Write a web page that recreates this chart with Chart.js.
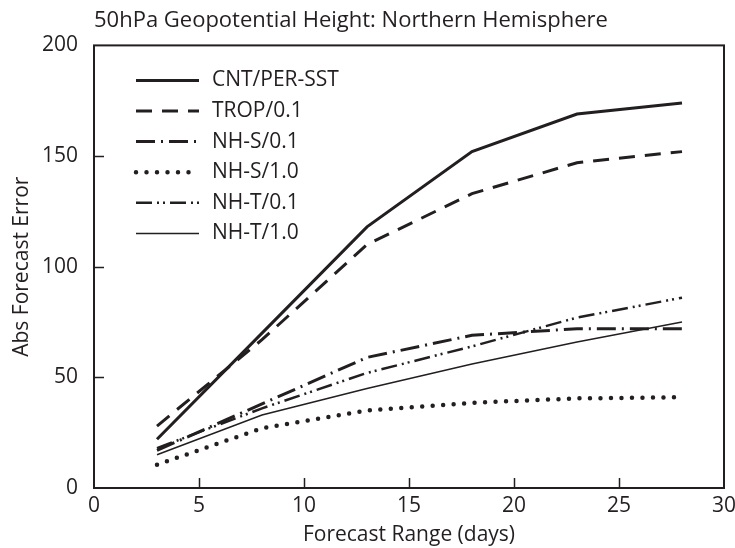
<!DOCTYPE html>
<html>
<head>
<meta charset="utf-8">
<script src="https://cdn.jsdelivr.net/npm/chart.js@4.4.1/dist/chart.umd.min.js"></script>
<style>
  html, body { margin: 0; padding: 0; background: #fff; }
  #wrap { width: 735px; height: 548px; }
</style>
</head>
<body>
<div id="wrap"><canvas id="chart" width="735" height="548"></canvas></div>
<script>
// forecast range (days) and abs forecast error per experiment
const days = [3, 8, 13, 18, 23, 28];
const cntPerSst = [22, 70, 118, 152, 169, 174];
const trop01 = [28, 67, 110, 133, 147, 152];
const nhS01 = [17, 38, 59, 69, 72, 72];
const nhS10 = [10.5, 27, 35, 38.5, 40.5, 41];
const nhT01 = [18, 36, 52, 64, 77, 86];
const nhT10 = [15, 33, 45, 56, 66, 75];

const xTicks = [0, 5, 10, 15, 20, 25, 30];
const yTicks = [0, 50, 100, 150, 200];

const INK = '#231f20';
const FONT = "'Open Sans', sans-serif";
const FSIZE = 21;

const series = [
    { label: 'CNT/PER-SST', data: cntPerSst, width: 3, dash: [], cap: 'butt' },
    { label: 'TROP/0.1', data: trop01, width: 3, dash: [16, 10], cap: 'butt' },
    { label: 'NH-S/0.1', data: nhS01, width: 3, dash: [19, 6, 2, 6], cap: 'butt' },
    { label: 'NH-S/1.0', data: nhS10, width: 4.5, dash: [0, 10.5], cap: 'round' },
    { label: 'NH-T/0.1', data: nhT01, width: 2.5, dash: [16, 5, 2, 4, 2, 5], cap: 'butt' },
    { label: 'NH-T/1.0', data: nhT10, width: 1.5, dash: [], cap: 'butt' }
];

const datasets = series.map(s => ({
    label: s.label,
    data: days.map((d, i) => ({ x: d, y: s.data[i] })),
    borderColor: INK,
    backgroundColor: INK,
    borderWidth: s.width,
    borderDash: s.dash,
    borderCapStyle: s.cap,
    borderJoinStyle: 'miter',
    pointRadius: 0,
    tension: 0,
    fill: false
}));

// frame, inward ticks and legend inside the plot
const framePlugin = {
    id: 'frame',
    afterDatasetsDraw(chart) {
        const { ctx, chartArea: a, scales } = chart;
        ctx.save();
        ctx.strokeStyle = INK;
        ctx.setLineDash([]);
        ctx.lineWidth = 1.5;
        xTicks.slice(1, -1).forEach(v => {
            const px = Math.round(scales.x.getPixelForValue(v)) + 0.5;
            ctx.beginPath();
            ctx.moveTo(px, a.bottom);
            ctx.lineTo(px, a.bottom - 10);
            ctx.stroke();
        });
        yTicks.slice(1, -1).forEach(v => {
            const py = Math.round(scales.y.getPixelForValue(v)) + 0.5;
            ctx.beginPath();
            ctx.moveTo(a.left, py);
            ctx.lineTo(a.left + 10, py);
            ctx.stroke();
        });
        ctx.lineWidth = 2;
        ctx.strokeRect(a.left, a.top, a.right - a.left, a.bottom - a.top);

        // legend
        const x0 = a.left + 42, x1 = a.left + 105, tx = a.left + 118;
        let y = a.top + 35;
        ctx.font = FSIZE + "px " + FONT;
        ctx.fillStyle = INK;
        ctx.textBaseline = 'middle';
        series.forEach(s => {
            ctx.lineWidth = s.width;
            ctx.setLineDash(s.dash);
            ctx.lineCap = s.cap;
            ctx.beginPath();
            ctx.moveTo(x0, y);
            ctx.lineTo(x1, y);
            ctx.stroke();
            ctx.fillText(s.label, tx, y);
            y += 30.6;
        });
        ctx.restore();
    }
};

new Chart(document.getElementById('chart'), {
    type: 'line',
    data: { datasets: datasets },
    plugins: [framePlugin],
    options: {
        responsive: false,
        animation: false,
        layout: { padding: { left: 0, right: 11, top: 0, bottom: 0 } },
        plugins: {
            legend: { display: false },
            tooltip: { enabled: false },
            title: {
                display: true,
                text: '50hPa Geopotential Height: Northern Hemisphere',
                align: 'start',
                fullSize: false,
                color: INK,
                font: { family: FONT, size: 22, weight: 'normal' },
                padding: { top: 8, bottom: 11 }
            }
        },
        scales: {
            x: {
                type: 'linear',
                min: 0,
                max: 30,
                grid: { display: false, drawTicks: false },
                border: { display: false },
                afterFit: s => { s.height = 60; s.paddingLeft = 0; s.paddingRight = 0; },
                afterBuildTicks: s => { s.ticks = xTicks.map(v => ({ value: v })); },
                ticks: { color: INK, font: { family: FONT, size: FSIZE }, padding: 5, maxRotation: 0 },
                title: {
                    display: true,
                    text: 'Forecast Range (days)',
                    color: INK,
                    font: { family: FONT, size: FSIZE },
                    padding: { top: 0, bottom: 0 }
                }
            },
            y: {
                min: 0,
                max: 200,
                grid: { display: false, drawTicks: false },
                border: { display: false },
                afterFit: s => { s.width = 94; s.paddingTop = 0; s.paddingBottom = 0; },
                afterBuildTicks: s => { s.ticks = yTicks.map(v => ({ value: v })); },
                ticks: { color: INK, font: { family: FONT, size: FSIZE }, padding: 16 },
                title: {
                    display: true,
                    text: 'Abs Forecast Error',
                    color: INK,
                    font: { family: FONT, size: FSIZE },
                    padding: { top: 9, bottom: 0 }
                }
            }
        }
    }
});
</script>
</body>
</html>
